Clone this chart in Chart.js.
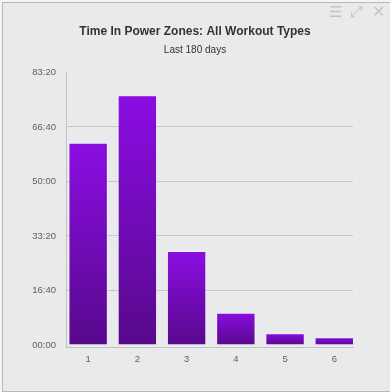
<!DOCTYPE html>
<html>
<head>
<meta charset="utf-8">
<script src="https://cdn.jsdelivr.net/npm/chart.js@4"></script>
<style>
  html, body { margin: 0; padding: 0; background: #f4f4f5; width: 390px; height: 392px; overflow: hidden; }
  #frame { position: absolute; left: 2px; top: 2px; width: 400px; height: 388px;
           border-top: 1px solid #b9b9bb; border-left: 1px solid #b9b9bb; border-bottom: 1px solid #b9b9bb;
           background: #e9eaec; }
  #wrap { position: absolute; left: 0; top: 0; width: 390px; height: 392px; }
  .icon { position: absolute; color: #c3c3c5; font-family: "DejaVu Sans", sans-serif; line-height: 1; }
</style>
</head>
<body>
<div id="frame"></div>
<div id="wrap"><canvas id="c" width="390" height="392"></canvas></div>
<span class="icon" style="left:329px; top:5px; font-size:15px;">☰</span>
<span class="icon" style="left:350px; top:5px; font-size:15px;">⤢</span>
<span class="icon" style="left:372px; top:4px; font-size:16px;">✕</span>
<script>
// ---- data ----
const zones = [1, 2, 3, 4, 5, 6];
const minutesInZone = [3712, 4582, 1725, 593, 215, 141];
const yTickValues = [0, 1000, 2000, 3000, 4000, 5000];
const titleText = 'Time In Power Zones: All Workout Types';
const subtitleText = 'Last 180 days';

function fmtHM(v) {
  const h = Math.floor(v / 60);
  const m = Math.round(v - h * 60);
  return String(h).padStart(2, '0') + ':' + String(m).padStart(2, '0');
}

const fontFam = '"Liberation Sans", Helvetica, Arial, sans-serif';

const barFill = (c) => {
  const chart = c.chart;
  const { ctx, chartArea, scales } = chart;
  if (!chartArea || c.type !== 'data' || !scales.y) return '#7a0cc8';
  const v = c.parsed ? c.parsed.y : 0;
  const yTop = scales.y.getPixelForValue(v);
  const yBase = scales.y.getPixelForValue(0);
  if (!isFinite(yTop) || !isFinite(yBase) || yBase - yTop < 1) return '#8a0de0';
  const g = ctx.createLinearGradient(0, yTop, 0, yBase);
  g.addColorStop(0, '#8b0de2');
  g.addColorStop(1, '#57098c');
  return g;
};

new Chart(document.getElementById('c'), {
  type: 'bar',
  data: {
    datasets: [{
      data: zones.map((z, i) => ({ x: z, y: minutesInZone[i] })),
      backgroundColor: barFill,
      borderColor: 'rgba(255,255,255,0.28)',
      borderWidth: { top: 1, left: 1, right: 1, bottom: 0 },
      borderSkipped: false,
      categoryPercentage: 1,
      barPercentage: 0.8
    }]
  },
  options: {
    responsive: false,
    animation: false,
    events: [],
    layout: { padding: { left: 0, right: 0, top: 0, bottom: 0 } },
    plugins: {
      legend: { display: false },
      tooltip: { enabled: false },
      title: {
        display: true, text: titleText, color: '#333333',
        font: { family: fontFam, size: 12, weight: 'bold' },
        padding: { top: 24, bottom: 3 }
      },
      subtitle: {
        display: true, text: subtitleText, color: '#333333',
        font: { family: fontFam, size: 10, weight: 'normal' },
        padding: { top: 3, bottom: 16.1 }
      }
    },
    scales: {
      x: {
        type: 'linear',
        offset: false,
        min: 0.55, max: 6.38,
        afterBuildTicks: (s) => { s.ticks = zones.map(z => ({ value: z })); },
        afterFit: (s) => { s.height = 45; },
        ticks: {
          stepSize: 1, includeBounds: false, padding: 7,
          color: '#606060', font: { family: fontFam, size: 9.5 },
          callback: (v) => String(v)
        },
        grid: { display: true, offset: false, color: 'rgba(0,0,0,0)', drawTicks: false },
        border: { display: true, color: '#c2c2c4', width: 1 }
      },
      y: {
        min: -37, max: 5000,
        afterBuildTicks: (s) => { s.ticks = yTickValues.map(v => ({ value: v })); },
        afterFit: (s) => { s.width = 66; },
        ticks: {
          padding: 10, color: '#606060', font: { family: fontFam, size: 9.5 },
          callback: (v) => fmtHM(v)
        },
        grid: {
          drawTicks: false,
          color: (c) => (c.tick && (c.tick.value === 0 || c.tick.value === 5000)) ? 'rgba(0,0,0,0)' : '#c8c8ca',
          lineWidth: 1
        },
        border: { display: true, color: '#c2c2c4', width: 1 }
      },
      yRight: {
        position: 'right',
        display: true,
        min: 0, max: 1,
        afterFit: (s) => { s.width = 37; },
        ticks: { display: false },
        grid: { display: false, drawTicks: false },
        border: { display: false }
      }
    }
  }
});
</script>
</body>
</html>
